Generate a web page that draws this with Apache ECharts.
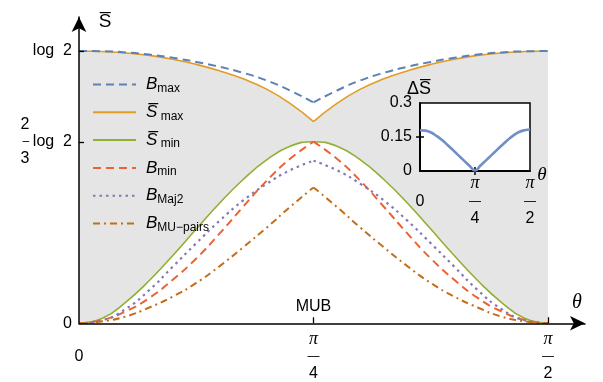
<!DOCTYPE html>
<html>
<head>
<meta charset="utf-8">
<script src="https://cdn.jsdelivr.net/npm/echarts@6/dist/echarts.min.js"></script>
<style>
  html, body { margin: 0; background: #fff; }
  #main { width: 603px; height: 382px; }
</style>
</head>
<body>
<div id="main"></div>
<script>
// θ in degrees (0 .. π/2), entropies in units of log 2
var theta = [0, 4.5, 9, 13.5, 18, 22.5, 27, 31.5, 36, 40.5, 45, 49.5, 54, 58.5, 63, 67.5, 72, 76.5, 81, 85.5, 90];
var bMax  = [1.0, 0.999, 0.995, 0.987, 0.975, 0.960, 0.942, 0.920, 0.892, 0.855, 0.811, 0.855, 0.892, 0.920, 0.942, 0.960, 0.975, 0.987, 0.995, 0.999, 1.0];
var sMax  = [1.0, 0.998, 0.993, 0.984, 0.970, 0.951, 0.927, 0.898, 0.860, 0.808, 0.741, 0.808, 0.860, 0.898, 0.927, 0.951, 0.970, 0.984, 0.993, 0.998, 1.0];
var sMin  = [0, 0.018, 0.078, 0.157, 0.249, 0.346, 0.442, 0.528, 0.600, 0.650, 0.667, 0.650, 0.600, 0.528, 0.442, 0.346, 0.249, 0.157, 0.078, 0.018, 0];
var bMin  = [0, 0.012, 0.044, 0.093, 0.160, 0.238, 0.330, 0.428, 0.523, 0.604, 0.667, 0.604, 0.523, 0.428, 0.330, 0.238, 0.160, 0.093, 0.044, 0.012, 0];
var bMaj2 = [0, 0.011, 0.053, 0.122, 0.208, 0.294, 0.377, 0.451, 0.512, 0.562, 0.597, 0.562, 0.512, 0.451, 0.377, 0.294, 0.208, 0.122, 0.053, 0.011, 0];
var bMU   = [0, 0.007, 0.025, 0.058, 0.098, 0.148, 0.210, 0.279, 0.351, 0.427, 0.499, 0.427, 0.351, 0.279, 0.210, 0.148, 0.098, 0.058, 0.025, 0.007, 0];
// inset: ΔS̄ against θ
var dS    = [0.180, 0.178, 0.170, 0.155, 0.137, 0.115, 0.092, 0.069, 0.046, 0.023, 0.002, 0.024, 0.047, 0.070, 0.093, 0.116, 0.138, 0.157, 0.172, 0.180, 0.183];

var names = ['Bmax', 'Smax', 'Smin', 'Bmin', 'BMaj2', 'BMU'];
var legendText = {
  Bmax: '{b|B}{s|max}',
  Smax: '{b|S\u0305}{s| max}',
  Smin: '{b|S\u0305}{s| min}',
  Bmin: '{b|B}{s|min}',
  BMaj2: '{b|B}{s|Maj2}',
  BMU: '{b|B}{s|MU\u2212pairs}'
};

function pts(arr, a, b) {
  var out = [];
  for (var i = a; i <= b; i++) out.push([theta[i], arr[i]]);
  return out;
}

var chart = echarts.init(document.getElementById('main'));

var FONT = 'Liberation Sans';
var fracRich = {
  n: { fontSize: 16, lineHeight: 17.5, fontFamily: FONT, color: '#000' },
  pi: { fontSize: 18, lineHeight: 17.5, fontFamily: 'Liberation Serif', fontStyle: 'italic', color: '#000' },
  bar: { fontSize: 12, lineHeight: 17.5, fontFamily: FONT, color: '#000' }
};
function thetaLabel(v) {
  if (v === 0) return '{n| }\n{n|0}\n{n| }';
  if (v === 45) return '{pi|\u03c0}\n{bar|\u2014}\n{n|4}';
  if (v === 90) return '{pi|\u03c0}\n{bar|\u2014}\n{n|2}';
  return '';
}

// halves keep the cusp at π/4 sharp
function half(name, arr, color, width, type, z) {
  return [[0, 10], [10, 20]].map(function (r) {
    return {
      name: name, type: 'line', smooth: true, showSymbol: false, symbol: 'none',
      data: pts(arr, r[0], r[1]), z: z,
      lineStyle: { color: color, width: width, type: type },
      itemStyle: { color: color }
    };
  });
}

var series = [];
// grey band between S̄min and S̄max
series.push({
  type: 'line', smooth: false, showSymbol: false, symbol: 'none', silent: true,
  data: pts(sMax, 0, 20), z: 1,
  lineStyle: { width: 0, opacity: 0 },
  areaStyle: { color: '#e5e5e5', opacity: 1 }
});
series.push({
  name: 'Smin', type: 'line', smooth: true, showSymbol: false, symbol: 'none',
  data: pts(sMin, 0, 20), z: 2,
  lineStyle: { color: '#8fb032', width: 1.6 },
  itemStyle: { color: '#8fb032' },
  areaStyle: { color: '#fff', opacity: 1 },
  markPoint: {
    symbol: 'circle', symbolSize: 0, silent: true,
    data: [{ coord: [45, 0] }],
    label: { show: true, position: 'top', distance: 9, formatter: 'MUB', color: '#000', fontSize: 16, fontFamily: FONT }
  }
});
series = series.concat(half('Smax', sMax, '#e19c24', 1.6, 'solid', 3));
series = series.concat(half('Bmax', bMax, '#5e81b5', 2, [8, 5], 3));
series = series.concat(half('Bmin', bMin, '#eb6235', 2, [8, 5], 3));
series = series.concat(half('BMaj2', bMaj2, '#8778b3', 2.2, [2.5, 4], 3));
series = series.concat(half('BMU', bMU, '#c56e1a', 2, [7, 4, 2, 4], 3));
series.push({
  type: 'line', xAxisIndex: 1, yAxisIndex: 1, smooth: true, showSymbol: false, symbol: 'none',
  data: pts(dS, 0, 20), z: 12,
  lineStyle: { color: '#6f8fc6', width: 2.6 }
});

var option = {
  animation: false,
  backgroundColor: '#fff',
  grid: [
    { left: 79, right: 18, top: 17, bottom: 54 },
    { left: 420, top: 103, width: 110, height: 68, show: true, backgroundColor: '#fff', borderColor: '#000', borderWidth: 1.5, z: 10 }
  ],
  legend: {
    orient: 'vertical', left: 92, top: 76, padding: 0,
    itemWidth: 43, itemHeight: 14, itemGap: 9.3,
    data: names,
    itemStyle: { opacity: 0 },
    formatter: function (n) { return legendText[n]; },
    textStyle: {
      color: '#000',
      rich: {
        b: { fontSize: 17, fontStyle: 'italic', fontFamily: FONT, lineHeight: 20, padding: [0, 0, 0, 5], color: '#000' },
        s: { fontSize: 12, fontFamily: FONT, lineHeight: 10, verticalAlign: 'bottom', color: '#000' }
      }
    }
  },
  xAxis: [
    {
      gridIndex: 0, type: 'value', min: 0, max: 97.1, z: 5,
      splitLine: { show: false },
      axisLine: { lineStyle: { color: '#000', width: 1.5 }, symbol: ['none', 'arrow'], symbolSize: [11, 15] },
      axisTick: { inside: true, length: 6, customValues: [45, 90], lineStyle: { color: '#000', width: 1.3 } },
      axisLabel: { customValues: [0, 45, 90], margin: 7, formatter: thetaLabel, rich: fracRich }
    },
    {
      gridIndex: 1, type: 'value', min: 0, max: 90, z: 11,
      splitLine: { show: false },
      axisLine: { lineStyle: { color: '#000', width: 1.5 } },
      axisTick: { inside: true, length: 4, customValues: [45], lineStyle: { color: '#000', width: 1.5 } },
      axisLabel: { customValues: [0, 45, 90], margin: 4, formatter: thetaLabel, rich: fracRich }
    },
    {
      gridIndex: 1, type: 'value', min: 0, max: 90, position: 'top', z: 11,
      splitLine: { show: false },
      axisLine: { lineStyle: { color: '#000', width: 1.5 } },
      axisTick: { inside: true, length: 4, customValues: [45], lineStyle: { color: '#000', width: 1.5 } },
      axisLabel: { show: false }
    }
  ],
  yAxis: [
    {
      gridIndex: 0, type: 'value', min: 0, max: 1.125, z: 5,
      splitLine: { show: false },
      axisLine: { show: true, lineStyle: { color: '#000', width: 1.5 }, symbol: ['none', 'arrow'], symbolSize: [11, 15] },
      axisTick: { show: true, inside: true, length: 5, customValues: [2 / 3, 1], lineStyle: { color: '#000', width: 1.3 } },
      axisLabel: {
        customValues: [0, 2 / 3, 1], margin: 7,
        formatter: function (v) {
          if (v === 0) return '{t|0}';
          if (Math.abs(v - 2 / 3) < 1e-6) return '{f|2}{p|}\n{fb|\u2013}{t|log  2}\n{f|3}{p|}';
          return '{t|log  2}';
        },
        rich: {
          t: { fontSize: 16, fontFamily: FONT, lineHeight: 17, color: '#000', align: 'right' },
          f: { fontSize: 16, fontFamily: FONT, lineHeight: 17, width: 12, align: 'center', color: '#000' },
          fb: { fontSize: 12, fontFamily: FONT, lineHeight: 17, width: 12, align: 'center', color: '#000' },
          p: { width: 41, lineHeight: 17 }
        }
      }
    },
    {
      gridIndex: 1, type: 'value', min: 0, max: 0.3, z: 11,
      splitLine: { show: false },
      axisLine: { show: true, lineStyle: { color: '#000', width: 1.5 } },
      axisTick: { show: true, inside: true, length: 4, customValues: [0.15], lineStyle: { color: '#000', width: 1.5 } },
      axisLabel: {
        customValues: [0, 0.15, 0.3], margin: 8, color: '#000', fontSize: 16, fontFamily: FONT,
        formatter: function (v) { return v === 0 ? '0' : String(v); }
      }
    },
    {
      gridIndex: 1, type: 'value', min: 0, max: 0.3, position: 'right', z: 11,
      splitLine: { show: false },
      axisLine: { show: true, lineStyle: { color: '#000', width: 1.5 } },
      axisTick: { show: true, inside: true, length: 4, customValues: [0.15], lineStyle: { color: '#000', width: 1.5 } },
      axisLabel: { show: false }
    }
  ],
  graphic: [
    { type: 'text', x: 105, y: 22, z: 20, style: { text: 'S\u0305', fontSize: 19, fontFamily: FONT, fill: '#000', align: 'center', verticalAlign: 'middle' } },
    { type: 'text', x: 577, y: 303, z: 20, style: { text: '\u03b8', fontSize: 20, fontFamily: 'Liberation Serif', fontStyle: 'italic', fill: '#000', align: 'center', verticalAlign: 'middle' } },
    { type: 'text', x: 419, y: 89, z: 20, style: { text: '\u0394S\u0305', fontSize: 18, fontFamily: FONT, fill: '#000', align: 'center', verticalAlign: 'middle' } },
    { type: 'text', x: 542, y: 175, z: 20, style: { text: '\u03b8', fontSize: 19, fontFamily: 'Liberation Serif', fontStyle: 'italic', fill: '#000', align: 'center', verticalAlign: 'middle' } }
  ],
  series: series
};

chart.setOption(option);
</script>
</body>
</html>
